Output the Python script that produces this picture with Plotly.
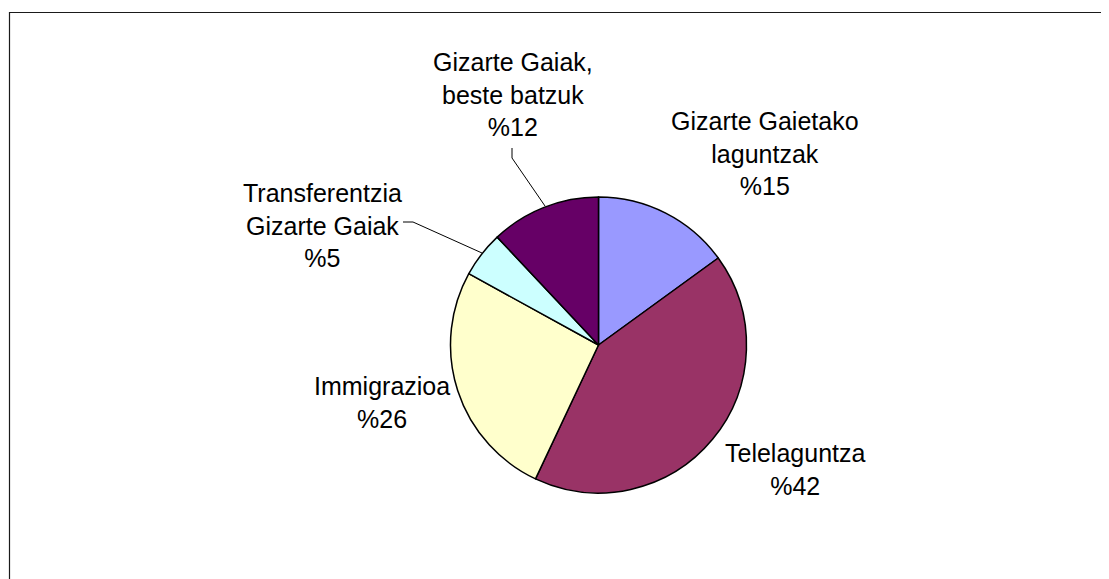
import plotly.graph_objects as go

# Data
labels = ["Gizarte Gaietako laguntzak", "Telelaguntza", "Immigrazioa",
          "Transferentzia Gizarte Gaiak", "Gizarte Gaiak, beste batzuk"]
values = [15, 42, 26, 5, 12]
label_text = ["Gizarte Gaietako<br>laguntzak<br>%15", "Telelaguntza<br>%42",
              "Immigrazioa<br>%26", "Transferentzia<br>Gizarte Gaiak<br>%5",
              "Gizarte Gaiak,<br>beste batzuk<br>%12"]
colors = ["#9999FF", "#993366", "#FFFFCC", "#CCFFFF", "#660066"]

W, H = 1109, 579
OFF = 8  # default page body margin
def px(x):
    return (x - OFF) / W
def py(y):
    return 1 - (y - OFF) / H

fig = go.Figure(go.Pie(
    labels=labels, values=values, sort=False, direction="clockwise", rotation=0,
    marker=dict(colors=colors, line=dict(color="black", width=1.5)),
    textinfo="none", hoverinfo="label+percent", showlegend=False,
    domain=dict(x=[px(450), px(747)], y=[py(493), py(197)]),
))

# label positions (pixel centers)
label_pos = [(765, 154), (795, 470), (382, 402), (323, 226), (513, 95)]
font = dict(family="Liberation Sans, Arial, sans-serif", size=25, color="black")
for t, (x, y) in zip(label_text, label_pos):
    fig.add_annotation(x=px(x), y=py(y), xref="paper", yref="paper", text=t,
                       showarrow=False, xanchor="center", yanchor="middle",
                       font=font, align="center")

# leader lines
leaders = [
    [(512, 148), (512, 158), (545, 206)],
    [(403, 222), (413, 222), (482, 253)],
]
for pts in leaders:
    path = "M " + " L ".join(f"{px(x)},{py(y)}" for x, y in pts)
    fig.add_shape(type="path", path=path, xref="paper", yref="paper",
                  line=dict(color="black", width=1))

# chart frame (left and top edges visible)
fig.add_shape(type="path", xref="paper", yref="paper",
              path=f"M {px(9.5)},{py(620)} L {px(9.5)},{py(12.5)} L {px(1140)},{py(12.5)}",
              line=dict(color="#1a1a1a", width=1.2))

fig.update_layout(width=W, height=H, margin=dict(l=0, r=0, t=0, b=0),
                  paper_bgcolor="white", plot_bgcolor="white")
fig.write_html("out.html")
